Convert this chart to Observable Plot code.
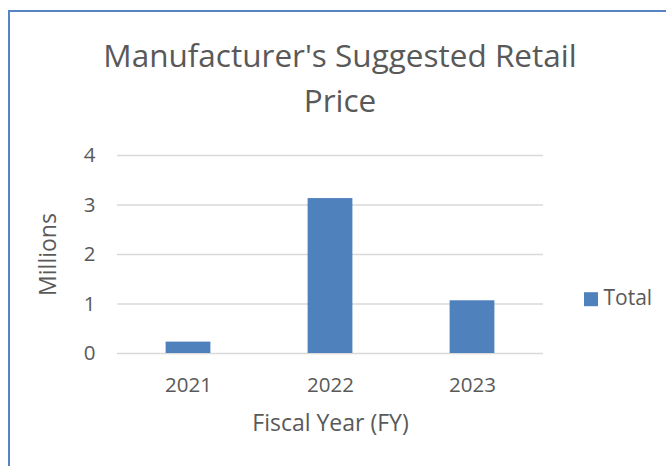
<!DOCTYPE html>
<html>
<head>
<meta charset="utf-8">
<script src="https://cdn.jsdelivr.net/npm/d3@7"></script>
<script src="https://cdn.jsdelivr.net/npm/@observablehq/plot@0.6"></script>
<style>
  html, body { margin: 0; padding: 0; width: 666px; height: 466px; overflow: hidden; background: #fff; }
  body { position: relative; font-family: "Open Sans", sans-serif; color: #595959; }
  #frame { position: absolute; left: 8px; top: 10px; width: 720px; height: 520px; border: 2px solid #5585C5; box-sizing: border-box; }
  #title { position: absolute; left: 70px; width: 540px; top: 32px; text-align: center; font-size: 31.5px; line-height: 45px; color: #595959; }
  #chart { position: absolute; left: 0; top: 130px; }
</style>
</head>
<body>
<div id="frame"></div>
<div id="title">Manufacturer's Suggested Retail<br>Price</div>
<div id="chart"></div>
<script>
const years = ["2021", "2022", "2023"];
const totals = [0.23, 3.13, 1.065];
const seriesName = "Total";
const yTicks = [0, 1, 2, 3, 4];
const xTitle = "Fiscal Year (FY)";
const yTitle = "Millions";

const data = years.map((y, i) => ({year: y, value: totals[i], series: seriesName}));
const ink = "#595959";
const font = "Open Sans";

const plot = Plot.plot({
  width: 666,
  height: 336,
  marginLeft: 117,
  marginRight: 123,
  marginTop: 25,
  marginBottom: 113,
  style: {fontFamily: font, color: ink, background: "transparent"},
  x: {domain: years, padding: 0, axis: null},
  y: {domain: [0, 4], axis: null},
  color: {domain: [seriesName], range: ["#4F81BD"]},
  marks: [
    Plot.ruleY(yTicks, {stroke: "#D9D9D9", strokeWidth: 1.3}),
    Plot.barY(data, {x: "year", y: "value", fill: "series", insetLeft: 48.6, insetRight: 48.6}),
    Plot.axisY({ticks: yTicks, tickSize: 0, tickPadding: 22, fontSize: 20.5, fill: ink, label: null, tickFormat: d => String(d)}),
    Plot.axisX({tickSize: 0, tickPadding: 24, fontSize: 20.5, fill: ink, label: null}),
    Plot.text([yTitle], {frameAnchor: "left", text: d => d, textAnchor: "middle", rotate: -90, dx: -69, fontSize: 23, fill: ink}),
    Plot.text([xTitle], {frameAnchor: "bottom", text: d => d, textAnchor: "middle", lineAnchor: "top", dy: 61, fontSize: 23, fill: ink}),
    Plot.dot([seriesName], {frameAnchor: "right", symbol: "square", r: 7.9, fill: d => d, dx: 47.5, dy: 44.7}),
    Plot.text([seriesName], {frameAnchor: "right", text: d => d, textAnchor: "start", dx: 60, dy: 44, fontSize: 21, fill: ink})
  ]
});
document.getElementById("chart").appendChild(plot);
</script>
</body>
</html>
